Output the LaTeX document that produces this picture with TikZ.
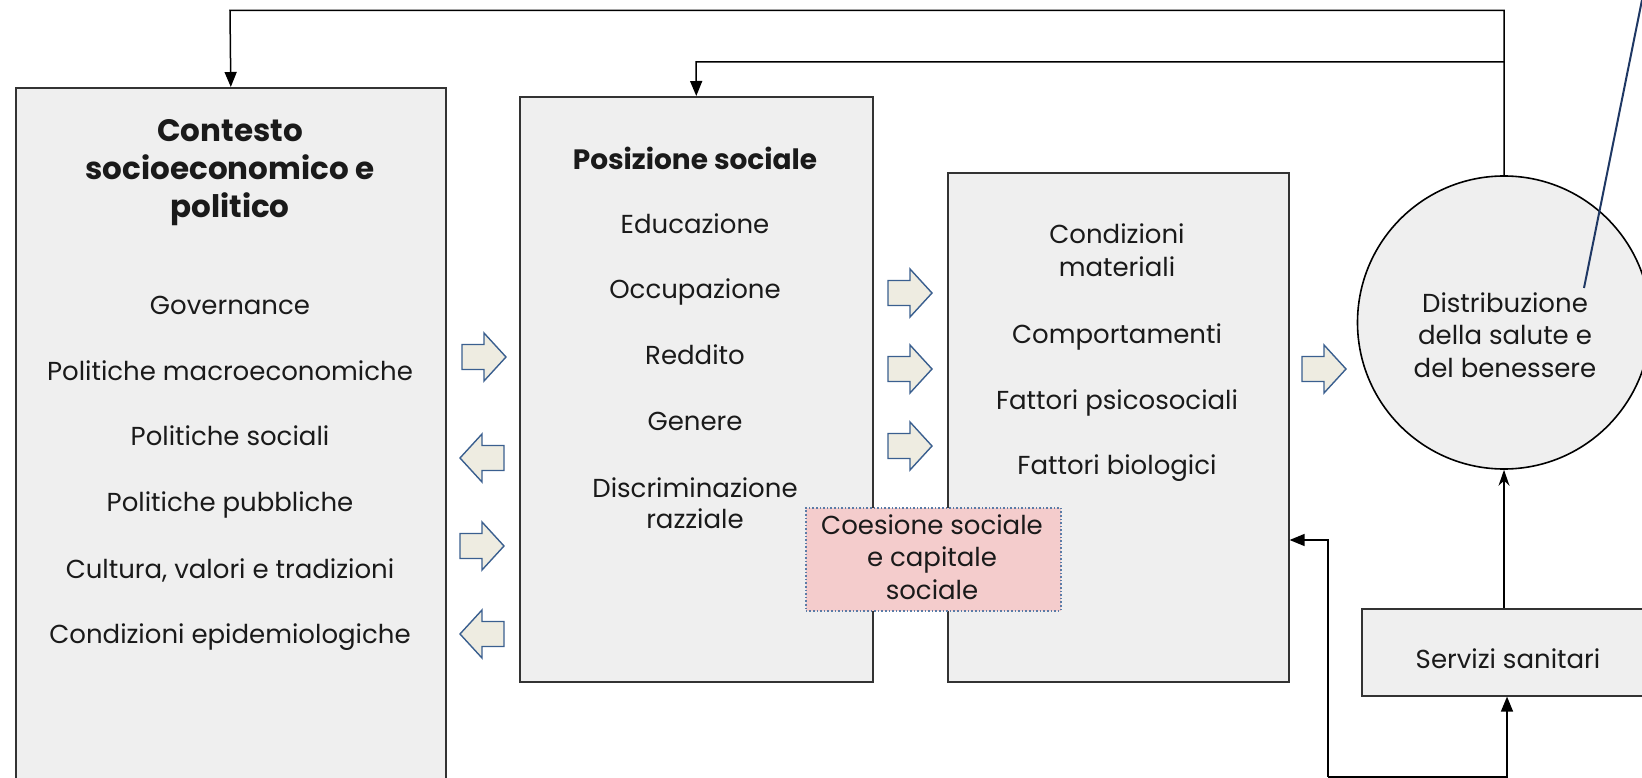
\documentclass[tikz,border=0pt]{standalone}
\usepackage{fontspec}
\setmainfont{Poppins}
\usetikzlibrary{arrows.meta}
\definecolor{boxgray}{HTML}{EFEFEF}
\definecolor{edgegray}{HTML}{333333}
\definecolor{afill}{HTML}{EEECE1}
\definecolor{aedge}{HTML}{3A5F8F}
\definecolor{pinkfill}{HTML}{F4CCCC}
\definecolor{dotblue}{HTML}{5B7BA6}
\definecolor{navyline}{HTML}{1F3864}
\definecolor{txtcol}{HTML}{1A1A1A}
\tikzset{
  box/.style={draw=edgegray, fill=boxgray, line width=1.6pt, rectangle, anchor=north west, inner sep=0pt},
  txt/.style={font=\fontsize{26}{30}\selectfont, text=txtcol, inner sep=0pt, text height=0.7em, text depth=0pt, anchor=center},
  ttl/.style={txt, font=\bfseries\fontsize{31}{35}\selectfont},
  conn/.style={draw=black, line width=1.5pt},
  tri/.style={-{Triangle[length=15pt,width=12pt]}},
  stl/.style={-{Stealth[length=16pt,width=11pt]}},
  barrow/.pic={\draw[draw=aedge, fill=afill, line width=1.4pt, line join=miter]
     (-22,-12.5) -- (0,-12.5) -- (0,-24) -- (22,0) -- (0,24) -- (0,12.5) -- (-22,12.5) -- cycle;}
}
\begin{document}
\begin{tikzpicture}[x=1pt,y=-1pt]
\useasboundingbox (0,0) rectangle (1642,778);
\clip (0,0) rectangle (1642,778);
% boxes
\node[box, minimum width=430pt, minimum height=740pt] (ctx) at (15,87) {};
\node[box, minimum width=353pt, minimum height=585pt] (pos) at (519,96) {};
\node[box, minimum width=341pt, minimum height=509pt] (mid) at (947,172) {};
\node[box, minimum width=300pt, minimum height=87pt] (serv) at (1361,608) {};
\node[draw=black, fill=boxgray, line width=1.6pt, circle, minimum size=293pt, inner sep=0pt] (circ) at (1504,322.5) {};
\node[rectangle, anchor=north west, fill=pinkfill, draw=dotblue, dotted, line width=1.6pt, minimum width=255pt, minimum height=103pt, inner sep=0pt] (coes) at (805,507) {};

% left box texts
\node[ttl] (c1) at (230,138) {Contesto};
\node[ttl] (c2) at (230,176) {socioeconomico e};
\node[ttl] (c3) at (230,214) {politico};
\node[txt] (l1) at (230,311) {Governance};
\node[txt] (l2) at (230,377) {Politiche macroeconomiche};
\node[txt] (l3) at (230,442) {Politiche sociali};
\node[txt] (l4) at (230,508) {Politiche pubbliche};
\node[txt] (l5) at (230,575) {Cultura, valori e tradizioni};
\node[txt] (l6) at (230,640) {Condizioni epidemiologiche};

% posizione texts
\node[ttl, font=\bfseries\fontsize{28}{32}\selectfont] (p0) at (695,166) {Posizione sociale};
\node[txt] (p1) at (695,230) {Educazione};
\node[txt] (p2) at (695,295) {Occupazione};
\node[txt] (p3) at (695,361) {Reddito};
\node[txt] (p4) at (695,427) {Genere};
\node[txt] (p5) at (695,494) {Discriminazione};
\node[txt] (p6) at (695,525) {razziale};

% middle texts
\node[txt] (m1) at (1117,240) {Condizioni};
\node[txt] (m2) at (1117,273) {materiali};
\node[txt] (m3) at (1117,340) {Comportamenti};
\node[txt] (m4) at (1117,406) {Fattori psicosociali};
\node[txt] (m5) at (1117,471) {Fattori biologici};

% coesione texts
\node[txt] (k1) at (932,531) {Coesione sociale};
\node[txt] (k2) at (932,563) {e capitale};
\node[txt] (k3) at (932,596) {sociale};

% circle texts
\node[txt] (d1) at (1505,309) {Distribuzione};
\node[txt] (d2) at (1505,341) {della salute e};
\node[txt] (d3) at (1505,374) {del benessere};

% servizi text
\node[txt] (s1) at (1508,665) {Servizi sanitari};

% block arrows
\pic at (484,357) {barrow};
\pic[xscale=-1] at (482,458) {barrow};
\pic at (482,546) {barrow};
\pic[xscale=-1] at (482,634) {barrow};
\pic at (910,293) {barrow};
\pic at (910,369) {barrow};
\pic at (910,446) {barrow};
\pic at (1324,369) {barrow};

% connectors
\coordinate (top1) at (230,10.5);
\coordinate (j1) at (1504,10.5);
\coordinate (j2) at (1504,62);
\coordinate (top2) at (696,62);
\draw[conn, tri] (circ.north) -- (j1) -- (top1) -- (ctx.north);
\draw[conn, tri] (j2) -- (top2) -- (pos.north);
\draw[conn, stl] (serv.north -| circ.south) -- (circ.south);
\coordinate (b1) at (1328,540);
\coordinate (b2) at (1328,777);
\coordinate (b3) at (1507,777);
\draw[conn, tri] (b2) -- (b3) -- (serv.south -| b3);
\draw[conn, tri] (b2) -- (b1) -- (b1 -| mid.east);
% navy line
\coordinate (n1) at (1584,288);
\coordinate (n2) at (1642,0);
\draw[navyline, line width=2pt] (n1) -- (n2);
\end{tikzpicture}
\end{document}
